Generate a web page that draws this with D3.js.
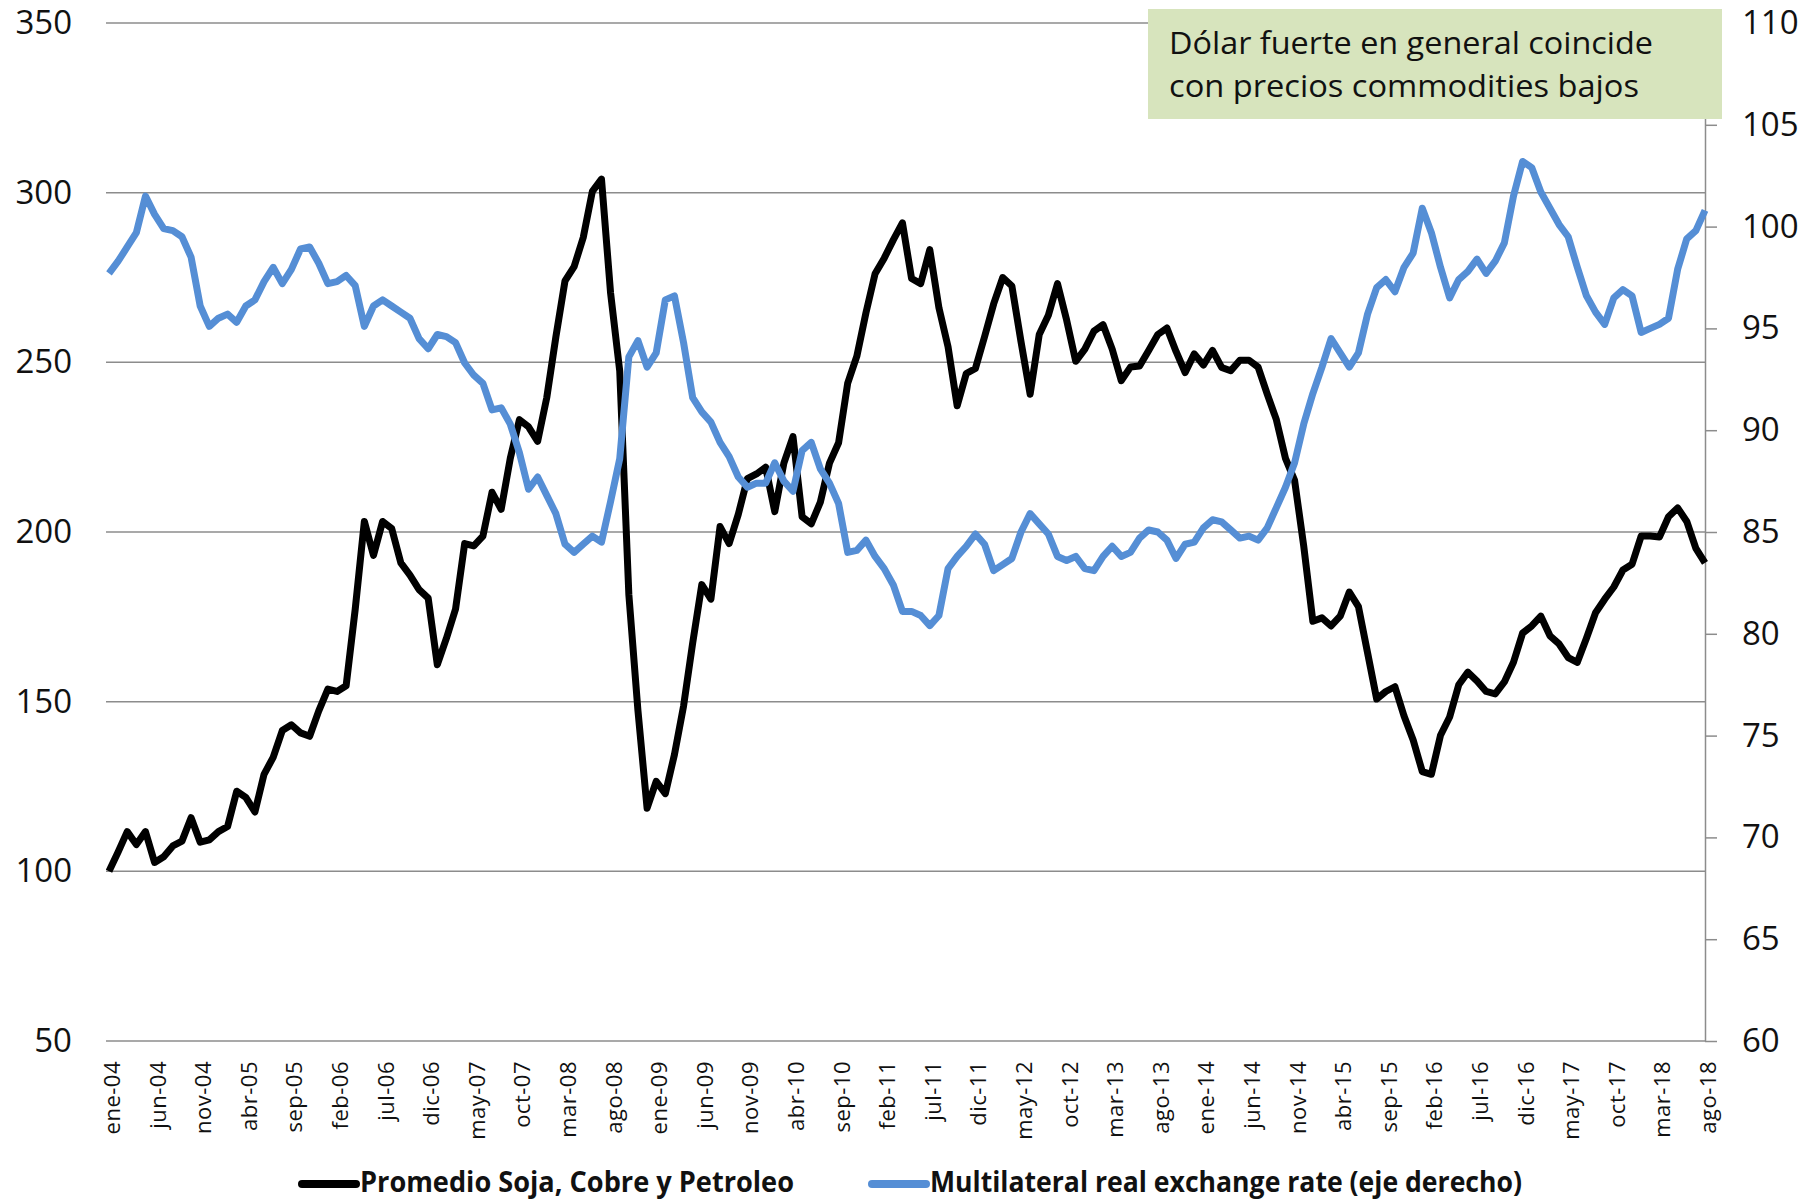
<!DOCTYPE html>
<html>
<head>
<meta charset="utf-8">
<script src="https://cdn.jsdelivr.net/npm/d3@7"></script>
<style>
  body { margin: 0; background: #fff; }
  svg { display: block; }
</style>
</head>
<body>
<svg id="chart" width="1804" height="1199"></svg>
<script>
// categories
const monthNames = ["ene", "feb", "mar", "abr", "may", "jun", "jul", "ago", "sep", "oct", "nov", "dic"];
const years = [2004, 2005, 2006, 2007, 2008, 2009, 2010, 2011, 2012, 2013, 2014, 2015, 2016, 2017, 2018];
const tickLabels = ["ene-04", "jun-04", "nov-04", "abr-05", "sep-05", "feb-06", "jul-06", "dic-06", "may-07",
  "oct-07", "mar-08", "ago-08", "ene-09", "jun-09", "nov-09", "abr-10", "sep-10", "feb-11", "jul-11",
  "dic-11", "may-12", "oct-12", "mar-13", "ago-13", "ene-14", "jun-14", "nov-14", "abr-15", "sep-15",
  "feb-16", "jul-16", "dic-16", "may-17", "oct-17", "mar-18", "ago-18"];

// Promedio Soja, Cobre y Petroleo (eje izquierdo), ene-04 .. ago-18
const commodity = [
  100.0, 105.7, 111.7, 107.9, 111.7, 102.6, 104.3, 107.5, 108.9, 115.8, 108.6, 109.3,
  111.7, 113.2, 123.6, 121.8, 117.5, 128.6, 133.6, 141.5, 143.2, 140.8, 139.8, 147.3,
  153.7, 153.0, 154.7, 177.3, 203.1, 193.1, 203.1, 201.0, 190.9, 187.3, 183.0, 180.5,
  160.9, 168.7, 177.3, 196.6, 195.9, 198.8, 211.7, 206.7, 221.7, 233.1, 231.0, 226.7,
  239.6, 257.5, 274.0, 278.2, 286.8, 300.4, 304.0, 270.4, 247.5, 181.6, 147.3, 118.6,
  126.5, 122.9, 134.4, 148.7, 167.3, 184.5, 180.2, 201.6, 196.6, 205.2, 215.7, 217.1,
  219.1, 206.0, 220.3, 228.1, 204.5, 202.4, 208.8, 220.3, 226.3, 243.9, 251.8, 264.6,
  276.1, 280.7, 286.1, 291.1, 274.7, 273.2, 283.2, 266.1, 254.6, 237.2, 246.7, 248.2,
  257.5, 267.2, 275.0, 272.5, 256.1, 240.6, 258.2, 263.9, 273.2, 262.5, 250.3, 253.9,
  259.2, 261.1, 253.9, 244.6, 248.6, 248.9, 253.5, 258.2, 260.1, 253.2, 247.0, 252.5,
  249.2, 253.5, 248.5, 247.5, 250.6, 250.6, 248.6, 240.6, 233.1, 221.7, 215.2, 195.9,
  173.7, 174.7, 172.3, 175.2, 182.3, 178.0, 164.4, 150.8, 153.0, 154.4, 145.8, 138.7,
  129.4, 128.6, 140.1, 145.5, 155.0, 158.7, 156.1, 153.0, 152.3, 155.8, 161.6, 170.2,
  172.3, 175.2, 169.4, 167.0, 163.0, 161.6, 168.7, 176.2, 180.2, 183.8, 188.8, 190.5,
  198.8, 198.8, 198.5, 204.5, 207.1, 203.1, 195.2, 190.9
];

// Multilateral real exchange rate (eje derecho)
const rer = [
  97.7, 98.3, 99.0, 99.7, 101.5, 100.6, 99.9, 99.8, 99.5, 98.5, 96.1, 95.1,
  95.5, 95.7, 95.3, 96.1, 96.4, 97.3, 98.0, 97.2, 97.9, 98.9, 99.0, 98.2,
  97.2, 97.3, 97.6, 97.1, 95.1, 96.1, 96.4, 96.1, 95.8, 95.5, 94.5, 94.0,
  94.7, 94.6, 94.3, 93.3, 92.7, 92.3, 91.0, 91.1, 90.3, 88.9, 87.1, 87.7,
  86.8, 85.9, 84.4, 84.0, 84.4, 84.8, 84.5, 86.5, 88.6, 93.6, 94.4, 93.1,
  93.8, 96.4, 96.6, 94.3, 91.6, 90.9, 90.4, 89.4, 88.7, 87.7, 87.2, 87.4,
  87.4, 88.4, 87.5, 87.0, 89.0, 89.4, 88.1, 87.4, 86.4, 84.0, 84.1, 84.6,
  83.8, 83.2, 82.4, 81.1, 81.1, 80.9, 80.4, 80.9, 83.2, 83.8, 84.3, 84.9,
  84.4, 83.1, 83.4, 83.7, 85.0, 85.9, 85.4, 84.9, 83.8, 83.6, 83.8, 83.2,
  83.1, 83.8, 84.3, 83.8, 84.0, 84.7, 85.1, 85.0, 84.6, 83.7, 84.4, 84.5,
  85.2, 85.6, 85.5, 85.1, 84.7, 84.8, 84.6, 85.2, 86.2, 87.2, 88.4, 90.3,
  91.8, 93.1, 94.5, 93.8, 93.1, 93.8, 95.7, 97.0, 97.4, 96.8, 98.0, 98.7,
  100.9, 99.7, 98.0, 96.5, 97.4, 97.8, 98.4, 97.7, 98.3, 99.2, 101.5, 103.2,
  102.9, 101.7, 100.9, 100.1, 99.5, 98.0, 96.6, 95.8, 95.2, 96.5, 96.9, 96.6,
  94.8, 95.0, 95.2, 95.5, 97.9, 99.4, 99.8, 100.8
];

const leftTicks = [50, 100, 150, 200, 250, 300, 350];
const rightTicks = [60, 65, 70, 75, 80, 85, 90, 95, 100, 105, 110];
const legendLabels = ["Promedio Soja, Cobre y Petroleo", "Multilateral real exchange rate (eje derecho)"];
const noteLines = ["Dólar fuerte en general coincide", "con precios commodities bajos"];

const months = [];
years.forEach(y => monthNames.forEach(m => months.push(m + "-" + String(y).slice(2))));
months.length = commodity.length;

const svg = d3.select("#chart");
const plotLeft = 106, plotRight = 1705, plotTop = 23, plotBottom = 1041;
const gridColor = "#8c8c8c";
const font = "'Open Sans', sans-serif";

const x = d3.scalePoint().domain(months).range([109, plotRight]);
const yL = d3.scaleLinear().domain([50, 350]).range([plotBottom, plotTop]);
const yR = d3.scaleLinear().domain([60, 110]).range([plotBottom, plotTop]);

svg.append("rect").attr("width", 1804).attr("height", 1199).attr("fill", "#fff");

// horizontal gridlines (left axis)
svg.append("g").selectAll("line")
  .data(leftTicks)
  .join("line")
  .attr("x1", plotLeft).attr("x2", plotRight)
  .attr("y1", d => yL(d)).attr("y2", d => yL(d))
  .attr("stroke", gridColor)
  .attr("stroke-width", 1.5);

// left axis labels
const gL = svg.append("g").attr("transform", `translate(${plotLeft},0)`)
  .call(d3.axisLeft(yL).tickValues(leftTicks).tickSize(0).tickPadding(34));
gL.select(".domain").remove();
gL.selectAll("text").attr("font-family", font).attr("font-size", 33).attr("fill", "#111");

// right axis
const gR = svg.append("g").attr("transform", `translate(${plotRight},0)`)
  .call(d3.axisRight(yR).tickValues(rightTicks).tickSize(12).tickSizeOuter(0).tickPadding(25));
gR.select(".domain").attr("stroke", gridColor).attr("stroke-width", 1.5);
gR.selectAll(".tick line").attr("stroke", gridColor).attr("stroke-width", 1.5);
gR.selectAll("text").attr("font-family", font).attr("font-size", 33).attr("fill", "#111");

// x labels, rotated
svg.append("g").selectAll("text")
  .data(tickLabels)
  .join("text")
  .attr("transform", d => `translate(${x(d)},${plotBottom + 20}) rotate(-90)`)
  .attr("text-anchor", "end")
  .attr("dy", "0.5em")
  .attr("font-family", font)
  .attr("font-size", 22)
  .attr("letter-spacing", 0.5)
  .attr("fill", "#111")
  .text(d => d);

// series
const lineL = d3.line().x((d, i) => x(months[i])).y(d => yL(d));
const lineR = d3.line().x((d, i) => x(months[i])).y(d => yR(d));

svg.append("path")
  .datum(commodity)
  .attr("fill", "none")
  .attr("stroke", "#000")
  .attr("stroke-width", 7)
  .attr("stroke-linejoin", "round")
  .attr("d", lineL);

svg.append("path")
  .datum(rer)
  .attr("fill", "none")
  .attr("stroke", "#558ed5")
  .attr("stroke-width", 7)
  .attr("stroke-linejoin", "round")
  .attr("d", lineR);

// annotation box
svg.append("rect")
  .attr("x", 1148).attr("y", 9)
  .attr("width", 574).attr("height", 110)
  .attr("fill", "#d7e4bd");

svg.append("g").selectAll("text")
  .data(noteLines)
  .join("text")
  .attr("x", 1169)
  .attr("y", (d, i) => 54 + i * 43)
  .attr("font-family", font)
  .attr("font-size", 31)
  .attr("fill", "#111")
  .attr("textLength", (d, i) => i === 0 ? 484 : 470)
  .attr("lengthAdjust", "spacingAndGlyphs")
  .text(d => d);

// legend
const legend = [
  { label: legendLabels[0], color: "#000", x1: 302, x2: 356, tx: 360, tl: 434 },
  { label: legendLabels[1], color: "#558ed5", x1: 872, x2: 926, tx: 930, tl: 592 }
];
const lg = svg.append("g");
lg.selectAll("line")
  .data(legend)
  .join("line")
  .attr("x1", d => d.x1).attr("x2", d => d.x2)
  .attr("y1", 1184).attr("y2", 1184)
  .attr("stroke", d => d.color)
  .attr("stroke-width", 8)
  .attr("stroke-linecap", "round");
lg.selectAll("text")
  .data(legend)
  .join("text")
  .attr("x", d => d.tx)
  .attr("y", 1192)
  .attr("font-family", "'Liberation Sans Narrow', 'Open Sans', sans-serif")
  .attr("font-weight", "bold")
  .attr("font-size", 29)
  .attr("fill", "#111")
  .attr("textLength", d => d.tl)
  .attr("lengthAdjust", "spacingAndGlyphs")
  .text(d => d.label);
</script>
</body>
</html>
